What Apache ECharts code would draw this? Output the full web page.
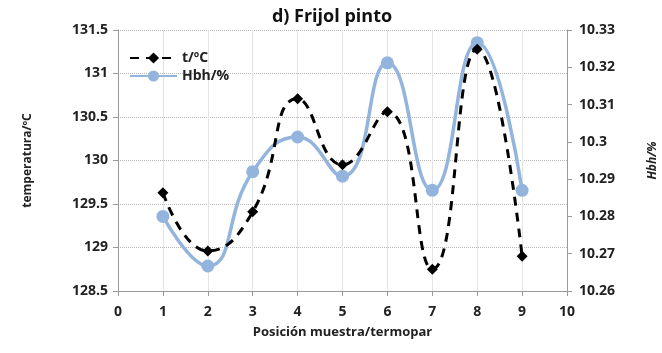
<!DOCTYPE html>
<html>
<head>
<meta charset="utf-8">
<script src="https://cdn.jsdelivr.net/npm/echarts@6/dist/echarts.min.js"></script>
<style>html,body{margin:0;padding:0;background:#fff}#c{width:662px;height:353px}</style>
</head>
<body>
<div id="c"></div>
<script>
const positions = [1, 2, 3, 4, 5, 6, 7, 8, 9];
const temperature = [129.63, 128.96, 129.41, 130.71, 129.95, 130.56, 128.75, 131.28, 128.90];
const humidity = [10.280, 10.2667, 10.292, 10.3013, 10.2908, 10.3212, 10.287, 10.3266, 10.287];
const titleText = 'd) Frijol pinto';
const seriesNames = ['t/ºC', 'Hbh/%'];
const xName = 'Posición muestra/termopar';
const yLeftName = 'temperatura/ºC';
const yRightName = 'Hbh/%';

const FONT = '"Open Sans", "Liberation Sans", sans-serif';
const chart = echarts.init(document.getElementById('c'));
const labelStyle = {color: '#222', fontWeight: 'bold', fontSize: 14, fontFamily: FONT};
chart.setOption({
  animation: false,
  title: {text: titleText, left: 327, top: 3, textAlign: 'center',
    textStyle: {fontFamily: FONT, fontWeight: 'bold', fontSize: 18, color: '#111'}},
  legend: {orient: 'vertical', left: 124, top: 46, itemWidth: 47, itemHeight: 14, itemGap: 4,
    textStyle: {fontFamily: FONT, fontWeight: 'bold', fontSize: 14, color: '#222'},
    data: seriesNames},
  grid: {left: 118, right: 95, top: 30, bottom: 62, outerBoundsMode: 'none', containLabel: false},
  xAxis: {type: 'value', min: 0, max: 10, interval: 1,
    name: xName, nameLocation: 'middle', nameGap: 35,
    nameTextStyle: {fontFamily: FONT, fontWeight: 'bold', fontSize: 13, color: '#222'},
    axisLine: {lineStyle: {color: '#999'}},
    axisTick: {show: true, length: 5, lineStyle: {color: '#999'}},
    axisLabel: Object.assign({margin: 14}, labelStyle),
    splitLine: {show: true, lineStyle: {color: '#e4e4e4', type: 'solid'}}},
  yAxis: [
    {type: 'value', min: 128.5, max: 131.5, interval: 0.5,
      name: yLeftName, nameLocation: 'middle', nameGap: 84, nameRotate: 90,
      nameTextStyle: {fontFamily: FONT, fontWeight: 'bold', fontSize: 12, color: '#222'},
      axisLine: {show: true, lineStyle: {color: '#999'}},
      axisTick: {show: true, length: 5, lineStyle: {color: '#999'}},
      axisLabel: Object.assign({margin: 10}, labelStyle),
      splitLine: {show: true, lineStyle: {color: '#b8b8b8', type: 'dotted'}}},
    {type: 'value', min: 10.26, max: 10.33, interval: 0.01,
      name: yRightName, nameLocation: 'middle', nameGap: 80, nameRotate: 90,
      nameTextStyle: {fontFamily: FONT, fontWeight: 'bold', fontStyle: 'italic', fontSize: 12, color: '#222'},
      axisLine: {show: true, lineStyle: {color: '#999'}},
      axisTick: {show: true, length: 5, lineStyle: {color: '#999'}},
      axisLabel: Object.assign({margin: 12, formatter: v => String(Math.round(v * 100) / 100)}, labelStyle),
      splitLine: {show: false}}
  ],
  series: [
    {name: seriesNames[0], type: 'line', yAxisIndex: 0, smooth: 0.5, z: 3,
      data: positions.map((p, i) => [p, temperature[i]]),
      symbol: 'diamond', symbolSize: 11,
      itemStyle: {color: '#000'},
      lineStyle: {color: '#000', width: 3, type: [9, 7], dashOffset: 0}},
    {name: seriesNames[1], type: 'line', yAxisIndex: 1, smooth: 0.5, z: 2,
      data: positions.map((p, i) => [p, humidity[i]]),
      symbol: 'circle', symbolSize: 13,
      itemStyle: {color: '#93b5dd'},
      lineStyle: {color: '#93b5dd', width: 3.5}}
  ]
});
</script>
</body>
</html>
